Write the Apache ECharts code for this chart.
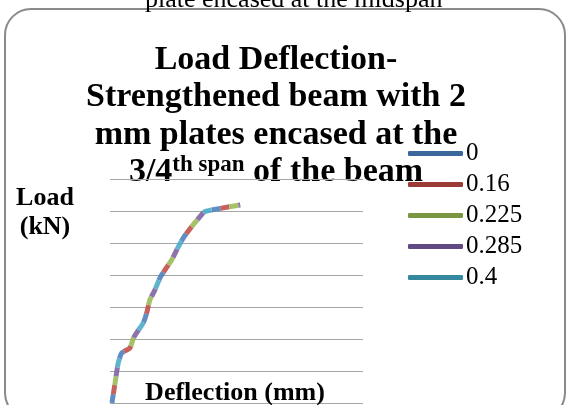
<!DOCTYPE html>
<html>
<head>
<meta charset="utf-8">
<script src="https://cdn.jsdelivr.net/npm/echarts@6/dist/echarts.min.js"></script>
<style>
html,body{margin:0;padding:0;background:#fff;}
#chart{width:567px;height:405px;}
</style>
</head>
<body>
<div id="chart"></div>
<script>
// Data
const seriesNames = ['0', '0.16', '0.225', '0.285', '0.4'];
const deflection = [0.3, 0.8, 1.3, 1.85, 3.15, 3.7, 4.5, 5.25, 5.8, 6.3, 7.1, 7.9, 8.7, 9.75, 10.8, 11.6, 12.9, 14.2, 15.0, 17.4, 20.6];
const load = [0, 6.2, 12.5, 15.6, 17.2, 20.3, 22.8, 25.0, 28.1, 32.2, 35.3, 39.1, 41.6, 44.7, 48.8, 51.6, 55.1, 58.2, 59.8, 60.8, 61.9];
const legendColors = ['#3c679a', '#9a3b38', '#7a9641', '#614a84', '#34899f'];
const lineColors = ['#4f81bd', '#c0504d', '#9bbb59', '#8064a2', '#4bacc6'];

const points = deflection.map((d, i) => [d, load[i]]);
const serif = '"Liberation Serif", "Times New Roman", serif';

const chart = echarts.init(document.getElementById('chart'));
const dash = 9;
const series = seriesNames.map((name, i) => ({
  name: name,
  type: 'line',
  data: points,
  symbol: 'none',
  smooth: 0.2,
  color: legendColors[i],
  lineStyle: {
    color: lineColors[i],
    width: 5,
    opacity: 0.9,
    type: [dash, dash * 4],
    dashOffset: -dash * i,
    cap: 'butt'
  },
  z: 3
}));

chart.setOption({
  animation: false,
  backgroundColor: '#fff',
  grid: { left: 110, right: 204, top: 179, bottom: 2 },
  xAxis: {
    type: 'value', min: 0, max: 40, interval: 10,
    axisLine: { show: false }, axisTick: { show: false }, axisLabel: { show: false },
    splitLine: { show: false }
  },
  yAxis: {
    type: 'value', min: 0, max: 70, interval: 10,
    axisLine: { show: false }, axisTick: { show: false }, axisLabel: { show: false },
    splitLine: { show: true, lineStyle: { color: '#a6a6a6', width: 1.2 } }
  },
  legend: {
    orient: 'vertical',
    left: 408, top: 141,
    padding: 0,
    itemWidth: 55, itemHeight: 5,
    itemGap: 6,
    icon: 'roundRect',
    textStyle: { fontFamily: serif, fontSize: 25, color: '#000', lineHeight: 25, padding: [0, 0, 0, -2] },
    data: seriesNames.map((n, i) => ({ name: n, itemStyle: { color: legendColors[i] } }))
  },
  graphic: [
    {
      type: 'rect', z: -1,
      shape: { x: 5, y: 9, width: 560, height: 410, r: 26 },
      style: { fill: '#fff', stroke: '#8a8a8a', lineWidth: 2 }
    },
    {
      type: 'text', left: 145, top: -13, z: 5,
      style: { text: 'plate encased at the midspan', font: '26px ' + serif, fill: '#000' }
    },
    {
      type: 'text', z: 0, x: 276, y: 41,
      style: {
        text: 'Load Deflection-\nStrengthened beam with 2\nmm plates encased at the\n3/4{sup|th span} of the beam',
        font: 'bold 34px ' + serif,
        fill: '#000',
        align: 'center',
        lineHeight: 37.5,
        rich: {
          sup: { font: 'bold 23px ' + serif, fill: '#000', verticalAlign: 'top', lineHeight: 37.5, padding: [0, 0, 0, 0] }
        }
      }
    },
    {
      type: 'text', z: 5, x: 45, y: 184,
      style: { text: 'Load\n(kN)', font: 'bold 26px ' + serif, fill: '#000', align: 'center', lineHeight: 29 }
    },
    {
      type: 'text', z: 5, x: 235, y: 380,
      style: { text: 'Deflection (mm)', font: 'bold 26px ' + serif, fill: '#000', align: 'center' }
    }
  ],
  series: series
});
</script>
</body>
</html>
